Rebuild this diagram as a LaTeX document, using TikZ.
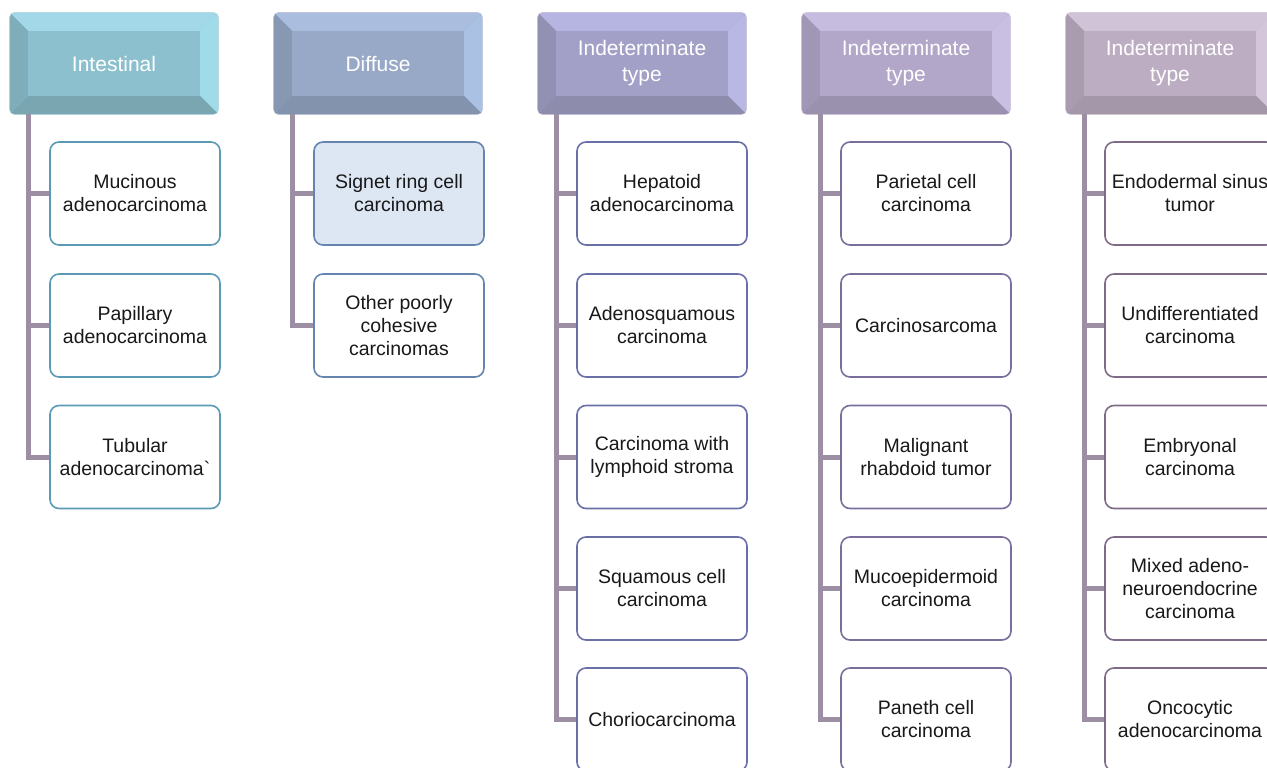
\documentclass[tikz,border=0pt]{standalone}
\usepackage{fontspec}
\setmainfont{Liberation Sans}[Ligatures=TeXOff]
\usetikzlibrary{backgrounds,calc}
% header colours: center, top, right, left, bottom
\definecolor{aC}{HTML}{8CC0CE}\definecolor{aT}{HTML}{A2D8E7}\definecolor{aR}{HTML}{A0DBEA}\definecolor{aL}{HTML}{7FAEBA}\definecolor{aB}{HTML}{7AA6B2}
\definecolor{bC}{HTML}{97A9C6}\definecolor{bT}{HTML}{AABDDE}\definecolor{bR}{HTML}{ABC1E3}\definecolor{bL}{HTML}{8898B2}\definecolor{bB}{HTML}{8393AD}
\definecolor{cC}{HTML}{A3A0C8}\definecolor{cT}{HTML}{B6B4E0}\definecolor{cR}{HTML}{B9B7E3}\definecolor{cL}{HTML}{9290B3}\definecolor{cB}{HTML}{8E8CAD}
\definecolor{dC}{HTML}{B2A7C9}\definecolor{dT}{HTML}{C6BCE0}\definecolor{dR}{HTML}{C9BFE3}\definecolor{dL}{HTML}{A096B5}\definecolor{dB}{HTML}{9A91AE}
\definecolor{eC}{HTML}{BCADC2}\definecolor{eT}{HTML}{D0C2D7}\definecolor{eR}{HTML}{D3C5DA}\definecolor{eL}{HTML}{A99CAE}\definecolor{eB}{HTML}{A497A9}
\definecolor{aD}{HTML}{5A9AB5}\definecolor{bD}{HTML}{6585B0}\definecolor{cD}{HTML}{6A6FA8}\definecolor{dD}{HTML}{7A6E9D}\definecolor{eD}{HTML}{7E6B88}
\definecolor{connC}{HTML}{9C8FA3}
\definecolor{signet}{HTML}{DDE6F3}
\tikzset{
  hdr/.style={minimum width=208pt,minimum height=101pt,inner sep=0pt,align=center,text=white,font=\fontsize{21}{26}\selectfont},
  child/.style={draw=#1,line width=1.6pt,rounded corners=9pt,minimum width=170pt,minimum height=103pt,inner sep=0pt,align=center,fill=white,font=\fontsize{19.5}{23}\selectfont,text=black!90},
  conn/.style={draw=connC,line width=5pt},
}
% \mybevel{node}{prefix}
\newcommand{\mybevel}[2]{%
  \begin{scope}[on background layer]
    \draw[#2C!60!white,line width=1.5pt,rounded corners=5pt] (#1.north west) rectangle (#1.south east);
    \begin{scope}
      \clip[rounded corners=5pt] (#1.north west) rectangle (#1.south east);
      \fill[#2C] (#1.north west) rectangle (#1.south east);
      \fill[#2T] (#1.north west) -- (#1.north east) -- ($(#1.north east)+(-18,18)$) -- ($(#1.north west)+(18,18)$) -- cycle;
      \fill[#2R] (#1.north east) -- (#1.south east) -- ($(#1.south east)+(-18,-18)$) -- ($(#1.north east)+(-18,18)$) -- cycle;
      \fill[#2L] (#1.north west) -- (#1.south west) -- ($(#1.south west)+(18,-18)$) -- ($(#1.north west)+(18,18)$) -- cycle;
      \fill[#2B] (#1.south west) -- (#1.south east) -- ($(#1.south east)+(-18,-18)$) -- ($(#1.south west)+(18,-18)$) -- cycle;
    \end{scope}
  \end{scope}}
\begin{document}
\begin{tikzpicture}[x=1pt,y=-1pt]
\useasboundingbox (0,0) rectangle (1267,768);
\clip (0,0) rectangle (1267,768);
% headers (left edges 10, 274, 538, 802, 1066)
\node[hdr] (h1) at (114,63.5) {Intestinal};
\node[hdr] (h2) at (378,63.5) {Diffuse};
\node[hdr] (h3) at (642,63.5) {Indeterminate\\type};
\node[hdr] (h4) at (906,63.5) {Indeterminate\\type};
\node[hdr] (h5) at (1170,63.5) {Indeterminate\\type};
\mybevel{h1}{a}\mybevel{h2}{b}\mybevel{h3}{c}\mybevel{h4}{d}\mybevel{h5}{e}
\coordinate (s1) at ($(h1.south west)+(19,0)$);
\coordinate (s2) at ($(h2.south west)+(19,0)$);
\coordinate (s3) at ($(h3.south west)+(19,0)$);
\coordinate (s4) at ($(h4.south west)+(19,0)$);
\coordinate (s5) at ($(h5.south west)+(19,0)$);
% column 1
\node[child=aD] (c11) at (135,193.5) {Mucinous\\adenocarcinoma};
\node[child=aD] (c12) at (135,325.5) {Papillary\\adenocarcinoma};
\node[child=aD] (c13) at (135,457) {Tubular\\adenocarcinoma`};
% column 2
\node[child=bD,fill=signet] (c21) at (399,193.5) {Signet ring cell\\carcinoma};
\node[child=bD] (c22) at (399,325.5) {Other poorly\\cohesive\\carcinomas};
% column 3
\node[child=cD] (c31) at (662,193.5) {Hepatoid\\adenocarcinoma};
\node[child=cD] (c32) at (662,325.5) {Adenosquamous\\carcinoma};
\node[child=cD] (c33) at (662,457) {Carcinoma with\\lymphoid stroma};
\node[child=cD] (c34) at (662,588.5) {Squamous cell\\carcinoma};
\node[child=cD] (c35) at (662,719.5) {Choriocarcinoma};
% column 4
\node[child=dD] (c41) at (926,193.5) {Parietal cell\\carcinoma};
\node[child=dD] (c42) at (926,325.5) {Carcinosarcoma};
\node[child=dD] (c43) at (926,457) {Malignant\\rhabdoid tumor};
\node[child=dD] (c44) at (926,588.5) {Mucoepidermoid\\carcinoma};
\node[child=dD] (c45) at (926,719.5) {Paneth cell\\carcinoma};
% column 5
\node[child=eD] (c51) at (1190,193.5) {Endodermal sinus\\tumor};
\node[child=eD] (c52) at (1190,325.5) {Undifferentiated\\carcinoma};
\node[child=eD] (c53) at (1190,457) {Embryonal\\carcinoma};
\node[child=eD] (c54) at (1190,588.5) {Mixed adeno-\\neuroendocrine\\carcinoma};
\node[child=eD] (c55) at (1190,719.5) {Oncocytic\\adenocarcinoma};
% connectors
\begin{scope}[on background layer]
\foreach \c in {1,2,3} \draw[conn] (s1) |- (c1\c.west);
\foreach \c in {1,2} \draw[conn] (s2) |- (c2\c.west);
\foreach \c in {1,...,5} \draw[conn] (s3) |- (c3\c.west);
\foreach \c in {1,...,5} \draw[conn] (s4) |- (c4\c.west);
\foreach \c in {1,...,5} \draw[conn] (s5) |- (c5\c.west);
\end{scope}
\end{tikzpicture}
\end{document}
